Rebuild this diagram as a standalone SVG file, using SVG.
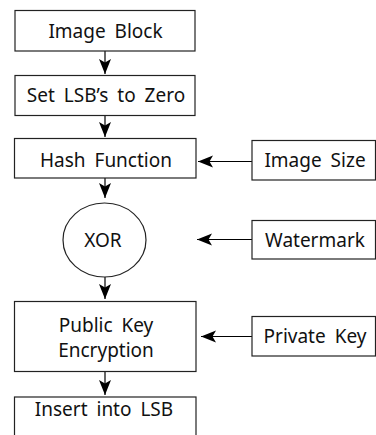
<svg xmlns="http://www.w3.org/2000/svg" width="376" height="435" viewBox="0 0 376 435">
  <style>
    .box { fill: #fff; stroke: #222; stroke-width: 1.2; }
    .lbl { font-family: "Noto Sans", "Open Sans", sans-serif; font-size: 19px; fill: #111; text-anchor: middle; word-spacing: 4px; }
    .wire { fill: none; stroke: #000; stroke-width: 1.2; marker-end: url(#head); }
  </style>
  <defs>
    <marker id="head" markerUnits="userSpaceOnUse" markerWidth="16" markerHeight="14" viewBox="0 0 16 14" refX="15" refY="7" orient="auto">
      <path d="M0,1 L15,7 L0,13 L3.5,7 Z" fill="#000"/>
    </marker>
  </defs>

  <rect width="376" height="435" fill="#fff"/>

  <g id="connectors">
    <line class="wire" x1="105" y1="51" x2="105" y2="74"/>
    <line class="wire" x1="105" y1="116" x2="105" y2="137"/>
    <line class="wire" x1="105" y1="178" x2="105" y2="198"/>
    <line class="wire" x1="105" y1="277" x2="105" y2="299"/>
    <line class="wire" x1="105" y1="372" x2="105" y2="395"/>
    <line class="wire" x1="252" y1="161.5" x2="198" y2="161.5"/>
    <line class="wire" x1="252" y1="239.5" x2="197" y2="239.5"/>
    <line class="wire" x1="252" y1="336.5" x2="201" y2="336.5"/>
  </g>

  <g id="image-block">
    <rect class="box" x="15" y="10.5" width="180" height="40.5"/>
    <text class="lbl" x="105.5" y="38">Image Block</text>
  </g>
  <g id="set-lsb">
    <rect class="box" x="15" y="75.5" width="180" height="40"/>
    <text class="lbl" x="106" y="101.5">Set LSB’s to Zero</text>
  </g>
  <g id="hash-function">
    <rect class="box" x="14.5" y="138.5" width="181.5" height="39.5"/>
    <text class="lbl" x="106" y="166.5">Hash Function</text>
  </g>
  <g id="image-size">
    <rect class="box" x="252" y="140.5" width="123.5" height="39.5"/>
    <text class="lbl" x="315" y="167">Image Size</text>
  </g>
  <g id="xor">
    <ellipse class="box" cx="104.5" cy="240" rx="41.5" ry="37"/>
    <text class="lbl" x="103" y="246.5">XOR</text>
  </g>
  <g id="watermark">
    <rect class="box" x="252" y="220.5" width="123.5" height="38.5"/>
    <text class="lbl" x="315" y="247">Watermark</text>
  </g>
  <g id="public-key-encryption">
    <rect class="box" x="14.5" y="301.5" width="181.5" height="70"/>
    <text class="lbl" x="106" y="331.5">Public Key</text>
    <text class="lbl" x="106" y="356.5">Encryption</text>
  </g>
  <g id="private-key">
    <rect class="box" x="252" y="316.5" width="123.5" height="39.5"/>
    <text class="lbl" x="315" y="343">Private Key</text>
  </g>
  <g id="insert-lsb">
    <rect class="box" x="14.5" y="397" width="181.5" height="45"/>
    <text class="lbl" x="104" y="416">Insert into LSB</text>
  </g>
</svg>
